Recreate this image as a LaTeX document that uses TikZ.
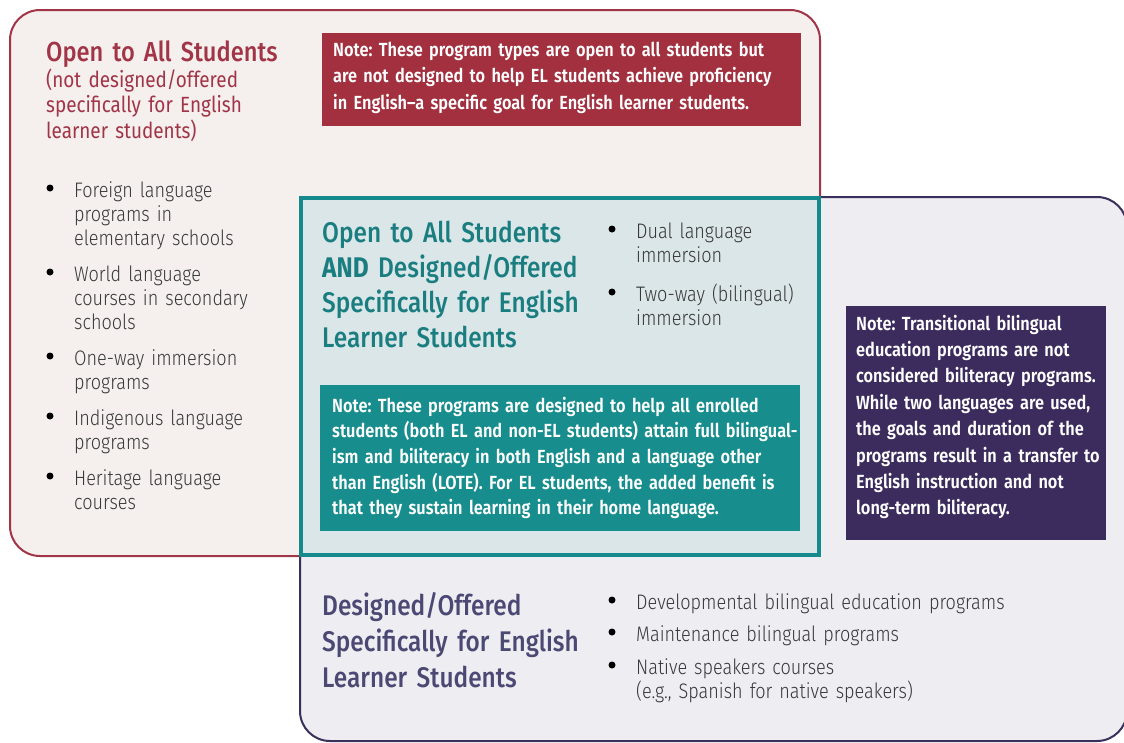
\documentclass[tikz,border=0pt]{standalone}
\usepackage{fontspec}
\setmainfont{Fira Sans}[FakeStretch=0.86]
\newfontfamily\lightfont{Fira Sans}[UprightFont={* Light},FakeStretch=0.86]
\newfontfamily\medfont{Fira Sans}[UprightFont={* Medium},BoldFont={* Bold},FakeStretch=0.86]
\newfontfamily\notefont{Fira Sans}[UprightFont={* SemiBold},FakeStretch=0.86]
\usetikzlibrary{positioning}
\frenchspacing
\definecolor{elred}{HTML}{A13446}
\definecolor{elredbg}{HTML}{F5EFEE}
\definecolor{elrednote}{HTML}{A2303F}
\definecolor{elteal}{HTML}{15898B}
\definecolor{eltealbg}{HTML}{DBE6E8}
\definecolor{eltealnote}{HTML}{178D8E}
\definecolor{eltealtx}{HTML}{1A7E80}
\definecolor{elpurple}{HTML}{3B2F5C}
\definecolor{elpurplebg}{HTML}{EDEDF2}
\definecolor{elpurplenote}{HTML}{3C2C5E}
\definecolor{elpurpletx}{HTML}{4B4873}
\definecolor{bodytx}{HTML}{383838}
\begin{document}
\begin{tikzpicture}[x=1pt,y=-1pt,
  box/.style={line width=2pt,rounded corners=30pt},
  notebox/.style={anchor=north west,inner sep=0pt},
  txt/.style={anchor=base west,inner sep=0pt,align=left,text width=600pt},
  title/.style={txt,font=\medfont\fontsize{28.4}{35}\selectfont},
  sub/.style={txt,font=\fontsize{22}{25.5}\selectfont},
  item/.style={txt,text=bodytx,font=\lightfont\fontsize{21}{24}\selectfont},
  dot/.style={circle,fill=black,inner sep=0pt,minimum size=7pt},
  note/.style={txt,text=white,font=\notefont\fontsize{19}{26.5}\selectfont}]
\useasboundingbox (0,0) rectangle (1124,742);

% the three program groups
\draw[box,draw=elred,fill=elredbg] (10,10) rectangle (820,556);
\draw[box,draw=elpurple,fill=elpurplebg] (300,197) rectangle (1127,741);
\draw[line width=3.5pt,draw=elteal,fill=eltealbg] (301,198) rectangle (819,555);

% open to all students
\node[title,text=elred,font=\medfont\fontsize{27.5}{35}\selectfont] (redtitle) at (46,61) {Open to All Students};
\node[sub,text=elred] (redsub) at (46,87) {(not designed/offered\\specifically for English\\learner students)};
\node[notebox,fill=elrednote,minimum width=479pt,minimum height=93pt] (rednote) at (322,33) {};
\node[note] (rednotetxt) at (333,56) {Note: These program types are open to all students but\\are not designed to help EL students achieve proficiency\\in English–a specific goal for English learner students.};
\node[dot] (rdot1) at (50,188) {};
\node[item] (ritem1) at (74,197) {Foreign language\\programs in\\elementary schools};
\node[dot] (rdot2) at (50,272) {};
\node[item] (ritem2) at (74,281) {World language\\courses in secondary\\schools};
\node[dot] (rdot3) at (50,356) {};
\node[item] (ritem3) at (74,365) {One-way immersion\\programs};
\node[dot] (rdot4) at (50,416) {};
\node[item] (ritem4) at (74,425) {Indigenous language\\programs};
\node[dot] (rdot5) at (50,476) {};
\node[item] (ritem5) at (74,485) {Heritage language\\courses};

% both
\node[title,text=eltealtx] (tealtitle) at (322,242) {Open to All Students\\\textbf{AND} Designed/Offered\\Specifically for English\\Learner Students};
\node[dot] (tdot1) at (612,229) {};
\node[item] (titem1) at (636,238) {Dual language\\immersion};
\node[dot] (tdot2) at (612,292) {};
\node[item] (titem2) at (636,301) {Two-way (bilingual)\\immersion};
\node[notebox,fill=eltealnote,minimum width=480pt,minimum height=146pt] (tealnote) at (320,385) {};
\node[note,font=\notefont\fontsize{19}{25.7}\selectfont] (tealnotetxt) at (332,412) {Note: These programs are designed to help all enrolled\\students (both EL and non-EL students) attain full bilingual-\\ism and biliteracy in both English and a language other\\than English (LOTE). For EL students, the added benefit is\\that they sustain learning in their home language.};

% designed for english learners
\node[notebox,fill=elpurplenote,minimum width=260pt,minimum height=234pt] (purplenote) at (846,306) {};
\node[note,font=\notefont\fontsize{19}{26.4}\selectfont] (purplenotetxt) at (856,330) {Note: Transitional bilingual\\education programs are not\\considered biliteracy programs.\\While two languages are used,\\the goals and duration of the\\programs result in a transfer to\\English instruction and not\\long-term biliteracy.};
\node[title,text=elpurpletx,font=\medfont\fontsize{28.4}{36}\selectfont] (purpletitle) at (322,615) {Designed/Offered\\Specifically for English\\Learner Students};
\node[dot] (pdot1) at (612,600) {};
\node[item] (pitem1) at (636,609) {Developmental bilingual education programs};
\node[dot] (pdot2) at (612,632) {};
\node[item] (pitem2) at (636,641) {Maintenance bilingual programs};
\node[dot] (pdot3) at (612,665) {};
\node[item] (pitem3) at (636,674) {Native speakers courses\\(e.g., Spanish for native speakers)};
\end{tikzpicture}
\end{document}
